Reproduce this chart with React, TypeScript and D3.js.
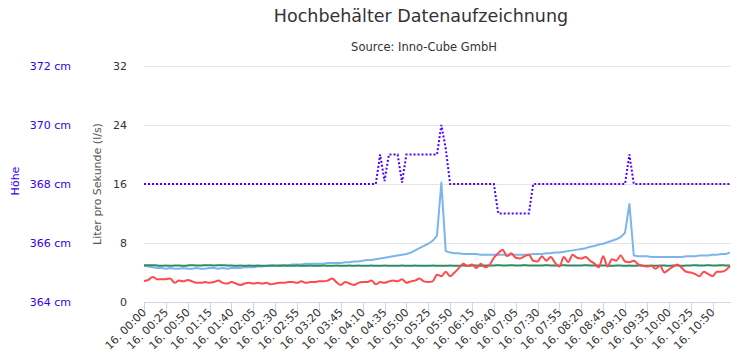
import React from "react";
import * as d3 from "d3";

const titleText = "Hochbehälter Datenaufzeichnung";
const subtitleText = "Source: Inno-Cube GmbH";
const flowAxisTitle = "Liter pro Sekunde (l/s)";
const heightAxisTitle = "Höhe";

// time of each sample, minutes after 16. 00:00 (5-minute samples)
const sampleStepMinutes = 5;
const sampleCount = 135;

const xTickMinutes = [0, 25, 50, 75, 100, 125, 150, 175, 200, 225, 250, 275, 300, 325, 350, 375, 400, 425, 450, 475, 500, 525, 550, 575, 600, 625, 650];
const xTickLabels = ["16. 00:00", "16. 00:25", "16. 00:50", "16. 01:15", "16. 01:40", "16. 02:05", "16. 02:30", "16. 02:55", "16. 03:20", "16. 03:45", "16. 04:10", "16. 04:35", "16. 05:00", "16. 05:25", "16. 05:50", "16. 06:15", "16. 06:40", "16. 07:05", "16. 07:30", "16. 07:55", "16. 08:20", "16. 08:45", "16. 09:10", "16. 09:35", "16. 10:00", "16. 10:25", "16. 10:50"];

const flowTicks = [0, 8, 16, 24, 32];
const heightTicks = [364, 366, 368, 370, 372];

const blueSeries = [
  4.9, 4.8, 4.7, 4.6, 4.6, 4.5, 4.6, 4.5, 4.5, 4.6,
  4.5, 4.5, 4.6, 4.5, 4.5, 4.6, 4.6, 4.5, 4.6, 4.5,
  4.6, 4.6, 4.6, 4.7, 4.7, 4.7, 4.8, 4.8, 4.9, 4.9,
  4.9, 5.0, 5.0, 5.0, 5.1, 5.1, 5.1, 5.2, 5.2, 5.2,
  5.2, 5.2, 5.3, 5.3, 5.3, 5.3, 5.4, 5.4, 5.5, 5.5,
  5.6, 5.7, 5.7, 5.8, 5.9, 6.0, 6.1, 6.2, 6.3, 6.4,
  6.5, 6.7, 7.0, 7.3, 7.6, 7.9, 8.3, 9.0, 16.2, 6.9,
  6.7, 6.6, 6.6, 6.5, 6.5, 6.5, 6.5, 6.4, 6.4, 6.4,
  6.4, 6.4, 6.4, 6.4, 6.4, 6.4, 6.4, 6.4, 6.4, 6.5,
  6.5, 6.5, 6.6, 6.6, 6.7, 6.7, 6.8, 6.9, 7.0, 7.1,
  7.2, 7.3, 7.5, 7.6, 7.8, 7.9, 8.1, 8.3, 8.5, 8.8,
  9.4, 13.3, 6.3, 6.2, 6.2, 6.2, 6.1, 6.1, 6.1, 6.1,
  6.1, 6.1, 6.1, 6.1, 6.2, 6.2, 6.2, 6.3, 6.3, 6.3,
  6.4, 6.4, 6.5, 6.5, 6.7,
];

const greenSeries = [
  5.0, 5.0, 5.0, 4.95, 4.9, 4.95, 4.9, 4.95, 4.95, 4.9,
  4.95, 5.0, 4.95, 4.95, 5.0, 5.0, 4.95, 5.0, 5.0, 4.95,
  4.95, 4.9, 4.95, 4.9, 4.95, 4.9, 4.95, 4.9, 4.9, 4.95,
  4.95, 4.9, 4.95, 4.9, 4.9, 4.95, 4.9, 4.9, 4.95, 4.9,
  4.9, 4.95, 4.9, 4.9, 4.95, 4.9, 4.9, 4.95, 4.9, 4.95,
  4.9, 4.9, 4.95, 4.9, 4.9, 4.95, 4.9, 4.9, 4.9, 4.95,
  4.9, 4.9, 4.95, 4.9, 4.9, 4.9, 4.95, 4.9, 4.9, 4.9,
  4.95, 4.9, 4.9, 4.95, 4.9, 4.95, 4.95, 4.9, 4.95, 4.95,
  4.95, 5.0, 4.95, 4.95, 5.0, 4.95, 4.95, 5.0, 4.95, 4.95,
  4.95, 4.95, 5.0, 4.95, 4.95, 4.95, 5.0, 4.95, 4.95, 4.95,
  4.95, 5.0, 4.95, 4.95, 4.95, 4.95, 4.95, 4.9, 4.95, 4.95,
  4.9, 4.95, 4.9, 4.95, 4.95, 4.9, 4.95, 4.9, 4.95, 4.95,
  4.9, 4.95, 4.95, 4.9, 4.95, 4.95, 5.0, 4.95, 4.95, 5.0,
  4.95, 4.95, 5.0, 4.95, 4.95,
];

const redSeries = [
  2.85, 3.0, 3.4, 3.1, 3.1, 3.1, 3.2, 2.6, 2.9, 2.8,
  3.0, 2.8, 2.6, 2.6, 2.7, 2.6, 2.7, 2.9, 2.6, 2.5,
  2.7, 2.5, 2.3, 2.5, 2.6, 2.5, 2.6, 2.5, 2.6, 2.4,
  2.5, 2.6, 2.6, 2.7, 2.7, 2.6, 2.8, 2.6, 2.7, 2.7,
  2.8, 2.8, 2.9, 3.2, 2.7, 2.3, 2.7, 2.5, 2.3, 2.6,
  2.7, 2.7, 2.9, 2.4, 2.7, 2.6, 2.8, 2.9, 2.8, 3.1,
  2.6, 2.8, 2.9, 3.2, 2.8, 2.7, 2.8, 3.7, 3.5, 4.1,
  3.5, 4.0, 4.6, 5.2, 4.9, 5.1, 4.6, 5.2, 4.7, 5.0,
  6.0, 6.6, 7.1, 6.2, 6.6, 6.0, 5.9, 6.2, 6.4, 5.6,
  5.5, 6.2, 5.6, 6.1, 5.3, 4.8, 6.1, 5.4, 6.4, 6.0,
  5.9, 6.1, 5.6, 5.2, 4.7, 6.2, 4.8, 5.8, 5.6, 6.3,
  5.5, 5.4, 5.6, 5.1, 4.9, 4.8, 4.9, 4.5, 4.9, 4.0,
  4.4, 4.8, 5.1, 4.6, 4.1, 4.0, 3.8, 3.5, 4.1, 3.8,
  3.5, 4.1, 4.1, 4.3, 4.9,
];

const heightSeries = [
  368, 368, 368, 368, 368, 368, 368, 368, 368, 368,
  368, 368, 368, 368, 368, 368, 368, 368, 368, 368,
  368, 368, 368, 368, 368, 368, 368, 368, 368, 368,
  368, 368, 368, 368, 368, 368, 368, 368, 368, 368,
  368, 368, 368, 368, 368, 368, 368, 368, 368, 368,
  368, 368, 368, 368, 369, 368.1, 369, 369, 369, 368.05,
  369, 369, 369, 369, 369, 369, 369, 369, 370, 369.2,
  368, 368, 368, 368, 368, 368, 368, 368, 368, 368,
  368, 367, 367, 367, 367, 367, 367, 367, 367, 368,
  368, 368, 368, 368, 368, 368, 368, 368, 368, 368,
  368, 368, 368, 368, 368, 368, 368, 368, 368, 368,
  368, 369, 368, 368, 368, 368, 368, 368, 368, 368,
  368, 368, 368, 368, 368, 368, 368, 368, 368, 368,
  368, 368, 368, 368, 368,
];

const W = 745;
const H = 360;
const plotLeft = 144;
const plotRight = 731;
const plotTop = 66;
const plotBottom = 302;
const FONT = "'DejaVu Sans', Verdana, sans-serif";

export default function App() {
  const minutes = d3.range(sampleCount).map((i) => i * sampleStepMinutes);
  const x = d3.scaleLinear().domain([0, (sampleCount - 1) * sampleStepMinutes]).range([plotLeft, 730]);
  const yFlow = d3.scaleLinear().domain([0, 32]).range([plotBottom, plotTop]);
  const yHeight = d3.scaleLinear().domain([364, 372]).range([plotBottom, plotTop]);

  const flowLine = (vals: number[], curve: d3.CurveFactory) =>
    d3.line<number>().x((_, i) => x(minutes[i])).y((v) => yFlow(v)).curve(curve)(vals) || "";
  const heightLine =
    d3.line<number>().x((_, i) => x(minutes[i])).y((v) => yHeight(v)).curve(d3.curveLinear)(heightSeries) || "";

  return (
    <svg width={W} height={H} style={{ position: "absolute", left: 0, top: 0, display: "block" }} fontFamily={FONT}>
      <rect x={0} y={0} width={W} height={H} fill="#ffffff" />
      <text x={421} y={22} textAnchor="middle" fontSize={17.5} fill="#333333">{titleText}</text>
      <text x={424} y={51} textAnchor="middle" fontSize={11.5} fill="#333333">{subtitleText}</text>

      {/* grid */}
      {flowTicks.filter((t) => t > 0).map((t) => (
        <line key={"g" + t} x1={plotLeft} x2={plotRight} y1={Math.round(yFlow(t)) + 0.5} y2={Math.round(yFlow(t)) + 0.5} stroke="#e6e6e6" strokeWidth={1} />
      ))}

      {/* flow axis labels */}
      {flowTicks.map((t) => (
        <text key={"f" + t} x={127} y={yFlow(t) + 4} textAnchor="end" fontSize={11} fill="#333333">{t}</text>
      ))}
      <text transform={`translate(101, 184) rotate(-90)`} textAnchor="middle" fontSize={11} fill="#555555">{flowAxisTitle}</text>

      {/* height axis labels */}
      {heightTicks.map((t) => (
        <text key={"h" + t} x={71} y={yHeight(t) + 4} textAnchor="end" fontSize={11} fill="#3300ee">{`${t} cm`}</text>
      ))}
      <text transform={`translate(19, 181) rotate(-90)`} textAnchor="middle" fontSize={11} fill="#3300ee">{heightAxisTitle}</text>

      {/* x axis */}
      <line x1={plotLeft} x2={plotRight} y1={plotBottom + 0.5} y2={plotBottom + 0.5} stroke="#ccd6eb" strokeWidth={1} />
      {xTickMinutes.map((m, i) => (
        <g key={"x" + m}>
          <line x1={Math.round(x(m)) + 0.5} x2={Math.round(x(m)) + 0.5} y1={plotBottom} y2={plotBottom + 10} stroke="#ccd6eb" strokeWidth={1} />
          <text transform={`translate(${x(m) + 3}, ${plotBottom + 11}) rotate(-45)`} textAnchor="end" fontSize={11} fill="#333333">{xTickLabels[i]}</text>
        </g>
      ))}

      {/* series */}
      <path d={flowLine(blueSeries, d3.curveLinear)} fill="none" stroke="#7cb5ec" strokeWidth={2} strokeLinejoin="round" />
      <path d={flowLine(greenSeries, d3.curveMonotoneX)} fill="none" stroke="#2b8c62" strokeWidth={2} strokeLinejoin="round" />
      <path d={flowLine(redSeries, d3.curveMonotoneX)} fill="none" stroke="#ff4a4a" strokeWidth={2} strokeLinejoin="round" />
      <path d={heightLine} fill="none" stroke="#5000ff" strokeWidth={2} strokeDasharray="2,2" />
    </svg>
  );
}
